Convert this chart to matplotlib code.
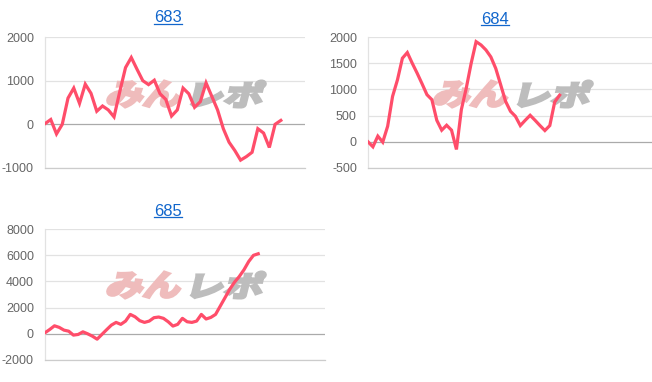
import numpy as np
import matplotlib
matplotlib.use("Agg")
import matplotlib.pyplot as plt
from matplotlib.textpath import TextPath
from matplotlib.font_manager import FontProperties
from matplotlib.patches import PathPatch
from matplotlib.transforms import Affine2D, IdentityTransform
from matplotlib.lines import Line2D

plt.rcParams['font.family'] = ['Liberation Sans', 'DejaVu Sans']
plt.rcParams['axes.unicode_minus'] = False

# data
titles = ['683', '684', '685']
v683 = [15, 110, -220, 0, 600, 830, 480, 920, 710, 300, 420, 330, 170, 750, 1300,
        1530, 1260, 1000, 910, 1010, 700, 570, 190, 330, 830, 700, 390, 520, 950,
        640, 330, -100, -410, -600, -820, -740, -640, -100, -200, -530, 0, 90]
v684 = [0, -95, 108, -6, 297, 867, 1184, 1595, 1703, 1500, 1310, 1108, 899, 804,
        411, 222, 316, 222, -146, 614, 1025, 1500, 1911, 1848, 1753, 1620, 1400,
        1089, 772, 582, 487, 310, 411, 506, 411, 310, 215, 310, 760, 890]
v685 = [80, 330, 610, 490, 280, 200, -100, -50, 150, 0, -180, -410, -50, 310, 660,
        870, 720, 970, 1480, 1300, 1000, 870, 970, 1230, 1280, 1180, 920, 590, 720,
        1180, 920, 870, 970, 1480, 1130, 1250, 1480, 2120, 2760, 3400, 3940, 4370,
        4890, 5520, 5990, 6110]
yticks683 = [-1000, 0, 1000, 2000]
yticks684 = [-500, 0, 500, 1000, 1500, 2000]
yticks685 = [-2000, 0, 2000, 4000, 6000, 8000]

W, H = 652, 382
LINE = '#ff4d6a'
BLUE = '#1166cc'

fig = plt.figure(figsize=(W / 100, H / 100), dpi=100)


def add_axes(left, top, right, bottom):
    return fig.add_axes([left / W, 1 - bottom / H, (right - left) / W, (bottom - top) / H])


def style(ax, ticks, xmax):
    ax.set_facecolor('none')
    ax.set_ylim(ticks[0], ticks[-1])
    ax.set_xlim(0, xmax)
    ax.set_yticks(ticks)
    ax.set_yticklabels([str(t) for t in ticks])
    ax.set_xticks([])
    ax.tick_params(axis='y', length=0, pad=8, labelsize=9, labelcolor='#666666')
    for t in ticks:
        ax.axhline(t, color='#aaaaaa' if t == 0 else '#e2e2e2', lw=0.9, zorder=0.5)
    for s in ['top', 'right']:
        ax.spines[s].set_visible(False)
    ax.spines['left'].set_color('#e2e2e2')
    ax.spines['bottom'].set_color('#cccccc')
    ax.spines['left'].set_linewidth(0.9)
    ax.spines['bottom'].set_linewidth(0.9)


def fit_text(ax, s, box, color, skew=14):
    # box = (x0, y0, x1, y1) in pixels, from the top-left corner
    fp = FontProperties(family='Noto Sans CJK JP', weight='bold')
    p = TextPath((0, 0), s, size=1, prop=fp)
    ext = p.get_extents()
    x0, y0, x1, y1 = box
    h = y1 - y0
    w = (x1 - x0) - h * np.tan(np.radians(skew))
    tr = (Affine2D().translate(-ext.x0, -ext.y0)
          .scale(w / ext.width, h / ext.height)
          .skew_deg(skew, 0)
          .translate(x0, H - y1))
    patch = PathPatch(tr.transform_path(p), facecolor=color, edgecolor=color, lw=2.2,
                      joinstyle='miter', transform=IdentityTransform(), zorder=1)
    ax.add_patch(patch)


def logo(ax, x0, y0):
    fit_text(ax, 'みん', (x0 + 1, y0 + 1, x0 + 79, y0 + 27), '#efbcbc')
    fit_text(ax, 'レポ', (x0 + 86, y0 + 1, x0 + 161, y0 + 27), '#bdbdbd')


def title(s, cx, cy):
    t = fig.text(cx / W, 1 - cy / H, s, ha='center', va='center', fontsize=12, color=BLUE)
    return t


ax1 = add_axes(45, 37, 305, 168)
style(ax1, yticks683, 45.2)
ax1.plot(range(len(v683)), v683, color=LINE, lw=2.3, zorder=3, solid_joinstyle='miter')
logo(ax1, 105, 80)

ax2 = add_axes(368, 37, 652, 168)
style(ax2, yticks684, 57.8)
ax2.plot(range(len(v684)), v684, color=LINE, lw=2.3, zorder=3, solid_joinstyle='miter')
logo(ax2, 432, 80)

ax3 = add_axes(45, 229, 325, 360)
style(ax3, yticks685, 59.1)
ax3.plot(range(len(v685)), v685, color=LINE, lw=2.3, zorder=3)
logo(ax3, 105, 271)

texts = [title(titles[0], 168, 18), title(titles[1], 495, 19), title(titles[2], 168, 211)]
fig.canvas.draw()
r = fig.canvas.get_renderer()
for t in texts:
    bb = t.get_window_extent(r)
    y = bb.y0 + 2
    fig.add_artist(Line2D([bb.x0 / W, bb.x1 / W], [y / H, y / H], color=BLUE, lw=0.9))

fig.savefig('out.png', dpi=100)
